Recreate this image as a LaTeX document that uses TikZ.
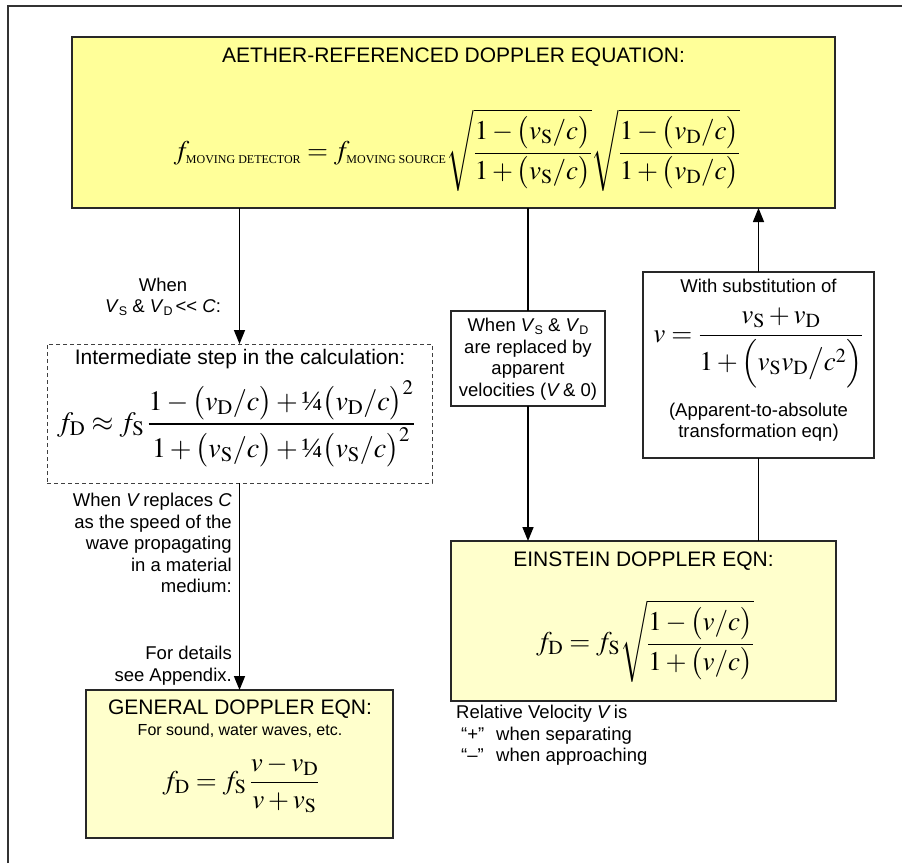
\documentclass[tikz,border=0pt]{standalone}
\usepackage{amsmath}
\usepackage{mathptmx}
\usepackage[no-math]{fontspec}
\setmainfont{Liberation Sans}
\newfontfamily\serifnum{Liberation Serif}
\usetikzlibrary{arrows.meta}
\definecolor{ybright}{RGB}{255,255,153}
\definecolor{ypale}{RGB}{255,255,204}
\definecolor{edgecol}{RGB}{40,40,40}
\newcommand{\fnTitle}{\fontsize{21}{24}\selectfont}
\newcommand{\fnBody}{\fontsize{18.5}{21.5}\selectfont}
\newcommand{\fnSmall}{\fontsize{16}{18}\selectfont}
\newcommand{\fnMath}{\fontsize{27}{32}\selectfont}
\newcommand{\fnMathB}{\fontsize{28}{33}\selectfont}
\newcommand{\vsub}[1]{\raisebox{-0.3ex}{\fontsize{12.5}{12.5}\selectfont #1}}
\newcommand{\capsub}[1]{\mbox{\serifnum\fontsize{12}{12}\selectfont #1}}
\newcommand{\qtr}{\mbox{\serifnum ¼}}
\tikzset{
  box/.style={draw=edgecol, line width=1.1pt, inner sep=0pt, outer sep=0pt},
  ybox/.style={box, fill=ybright},
  pbox/.style={box, fill=ypale},
  wbox/.style={box, fill=white},
  dbox/.style={draw=black!75, line width=0.9pt, dash pattern=on 4pt off 3pt, inner sep=0pt, outer sep=0pt},
  conn/.style={line width=1.5pt, draw=black},
  arr/.style={conn, -{Triangle[width=11pt,length=14pt]}},
  lbl/.style={inner sep=0pt, font=\fnBody},
  ttl/.style={inner sep=0pt, font=\fnTitle},
  mth/.style={inner sep=0pt, font=\fnMath},
}
\begin{document}
\begin{tikzpicture}[x=1pt,y=-1pt]
\useasboundingbox (0,0) rectangle (902,863);
% outer frame
\draw[line width=1.2pt, black!80] (8,863) -- (8,6) -- (902,6);

% boxes
\node[ybox, minimum width=763pt, minimum height=171pt] (top) at (453.5,122.5) {};
\node[dbox, minimum width=385pt, minimum height=139pt] (dash) at (239.5,413.5) {};
\node[pbox, minimum width=307pt, minimum height=148pt] (gen) at (239.5,764) {};
\node[pbox, minimum width=385pt, minimum height=160pt] (ein) at (643.5,621) {};
\node[wbox, minimum width=154pt, minimum height=95pt] (mid) at (528,358.5) {};
\node[wbox, minimum width=231pt, minimum height=186pt] (sub) at (758.5,365) {};

% connectors
\draw[arr] (top.south -| dash.north) -- (dash.north);
\draw[arr] (dash.south) -- (gen.north);
\draw[conn] (top.south -| mid.north) -- (mid.north);
\draw[arr] (mid.south) -- (mid.south |- ein.north);
\draw[conn] (sub.south |- ein.north) -- (sub.south);
\draw[arr] (sub.north) -- (sub.north |- top.south);

% top box text
\node[ttl] (toptitle) at (453.5,57) {AETHER-REFERENCED DOPPLER EQUATION:};
\node[mth] (topeq) at (457,150) {$\displaystyle f_{\capsub{MOVING DETECTOR}} = f_{\capsub{MOVING SOURCE}}\sqrt{\frac{1-\bigl(v_{\mathrm{S}}/c\bigr)}{1+\bigl(v_{\mathrm{S}}/c\bigr)}}\sqrt{\frac{1-\bigl(v_{\mathrm{D}}/c\bigr)}{1+\bigl(v_{\mathrm{D}}/c\bigr)}}$};

% left label 1
\node[lbl, align=center] (lab1) at (163,297) {When\\\textit{V}\vsub{S} \& \textit{V}\vsub{D}\,{<}{<} \textit{C}:};

% dashed box text
\node[ttl] (dashtitle) at (240,359) {Intermediate step in the calculation:};
\node[inner sep=0pt, font=\fnMathB] (dasheq) at (236,424) {$\displaystyle f_{\mathrm{D}} \approx f_{\mathrm{S}}\,\frac{1-\bigl(v_{\mathrm{D}}/c\bigr)+\qtr\bigl(v_{\mathrm{D}}/c\bigr)^2}{1+\bigl(v_{\mathrm{S}}/c\bigr)+\qtr\bigl(v_{\mathrm{S}}/c\bigr)^2}$};

% left labels 2 and 3
\node[lbl, align=right, anchor=north east] (lab2) at (232,493) {When \textit{V}\,replaces \textit{C}\\as the speed of the\\wave propagating\\in a material\\medium:};
\node[lbl, align=right, anchor=north east] (lab3) at (232,646) {For details\\see Appendix.};

% general box
\node[ttl] (gentitle) at (240,709) {GENERAL DOPPLER EQN:};
\node[inner sep=0pt, font=\fnSmall] (gensub) at (240,731) {For sound, water waves, etc.};
\node[mth] (geneq) at (241,784) {$\displaystyle f_{\mathrm{D}} = f_{\mathrm{S}}\,\frac{v-v_{\mathrm{D}}}{v+v_{\mathrm{S}}}$};

% middle label box text
\node[lbl, align=center] (midtext) at (528,359) {When \textit{V}\vsub{S} \& \textit{V}\vsub{D}\\are replaced by\\apparent\\velocities (\textit{V}\,\& 0)};

% substitution box text
\node[lbl] (subtitle) at (758.5,286) {With substitution of};
\node[mth] (subeq) at (758.5,348) {$\displaystyle v=\frac{v_{\mathrm{S}}+v_{\mathrm{D}}}{1+\Bigl(v_{\mathrm{S}}v_{\mathrm{D}}\big/c^{2}\Bigr)}$};
\node[lbl, align=center] (subnote) at (758.5,422) {(Apparent-to-absolute\\transformation eqn)};

% einstein box
\node[ttl] (eintitle) at (643.5,561) {EINSTEIN DOPPLER EQN:};
\node[mth] (eineq) at (645,641) {$\displaystyle f_{\mathrm{D}} = f_{\mathrm{S}}\sqrt{\frac{1-\bigl(v/c\bigr)}{1+\bigl(v/c\bigr)}}$};

% relative velocity note
\node[lbl, align=left, anchor=north west] (relnote) at (456,705) {Relative Velocity \textit{V}\,is\\\hspace*{5pt}\makebox[35pt][l]{“+”}when separating\\\hspace*{5pt}\makebox[35pt][l]{“–”}when approaching};
\end{tikzpicture}
\end{document}
